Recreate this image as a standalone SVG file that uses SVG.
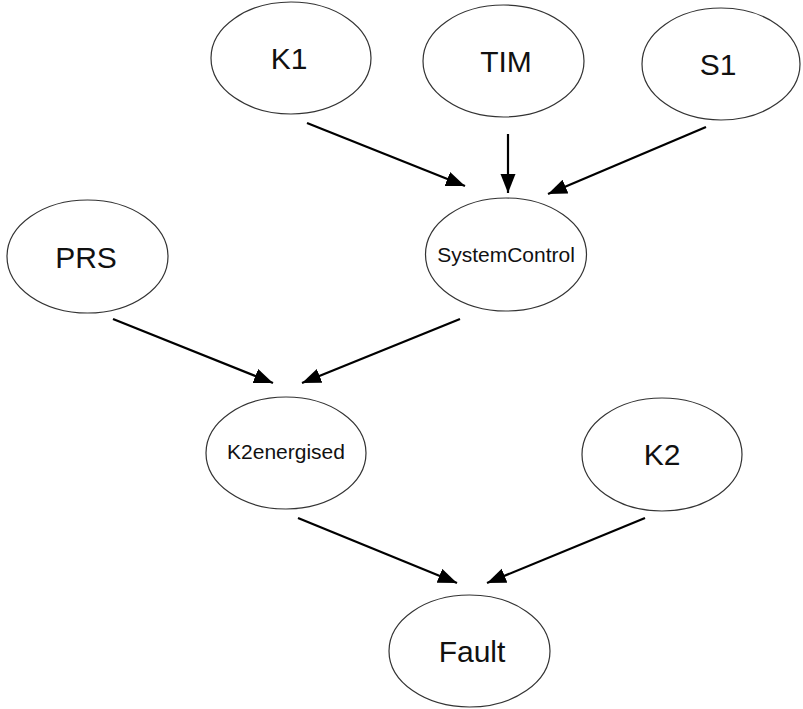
<svg xmlns="http://www.w3.org/2000/svg" width="803" height="709" viewBox="0 0 803 709">
  <style>
    .node ellipse { fill: #ffffff; stroke: #333333; stroke-width: 1.2; }
    .node text { font-family: "Liberation Sans", Arial, sans-serif; fill: #111111; text-anchor: middle; }
    .big { font-size: 30px; }
    .small { font-size: 21px; }
    .edge { stroke: #000000; stroke-width: 2.2; fill: none; marker-end: url(#arrow); }
  </style>
  <defs>
    <marker id="arrow" markerUnits="userSpaceOnUse" markerWidth="20" markerHeight="16" refX="19" refY="7.5" orient="auto">
      <path d="M0,0 L19,7.5 L0,15 z" fill="#000000"/>
    </marker>
  </defs>
  <rect width="803" height="709" fill="#ffffff"/>

  <g id="connectors">
    <line class="edge" x1="307" y1="123" x2="465" y2="186"/>
    <line class="edge" x1="508" y1="134" x2="508" y2="193"/>
    <line class="edge" x1="706" y1="127" x2="548" y2="194"/>
    <line class="edge" x1="113" y1="319" x2="273" y2="383"/>
    <line class="edge" x1="460" y1="319" x2="302" y2="383"/>
    <line class="edge" x1="298" y1="518" x2="457" y2="583"/>
    <line class="edge" x1="645" y1="518" x2="487" y2="583"/>
  </g>

  <g id="K1" class="node">
    <ellipse cx="291" cy="58" rx="80" ry="56"/>
    <text class="big" x="289" y="69">K1</text>
  </g>
  <g id="TIM" class="node">
    <ellipse cx="503.5" cy="61" rx="80.5" ry="56"/>
    <text class="big" x="506" y="72">TIM</text>
  </g>
  <g id="S1" class="node">
    <ellipse cx="721" cy="64" rx="79" ry="56"/>
    <text class="big" x="718" y="75">S1</text>
  </g>
  <g id="PRS" class="node">
    <ellipse cx="87.5" cy="256.5" rx="80.5" ry="56.5"/>
    <text class="big" x="86" y="268">PRS</text>
  </g>
  <g id="SystemControl" class="node">
    <ellipse cx="506" cy="254.5" rx="80.5" ry="56.5"/>
    <text class="small" x="506" y="262">SystemControl</text>
  </g>
  <g id="K2energised" class="node">
    <ellipse cx="286" cy="453" rx="80" ry="56"/>
    <text class="small" x="286" y="459">K2energised</text>
  </g>
  <g id="K2" class="node">
    <ellipse cx="662" cy="454.5" rx="80" ry="56.5"/>
    <text class="big" x="662" y="465">K2</text>
  </g>
  <g id="Fault" class="node">
    <ellipse cx="469.5" cy="651" rx="80.5" ry="56"/>
    <text class="big" x="472" y="662">Fault</text>
  </g>
</svg>
